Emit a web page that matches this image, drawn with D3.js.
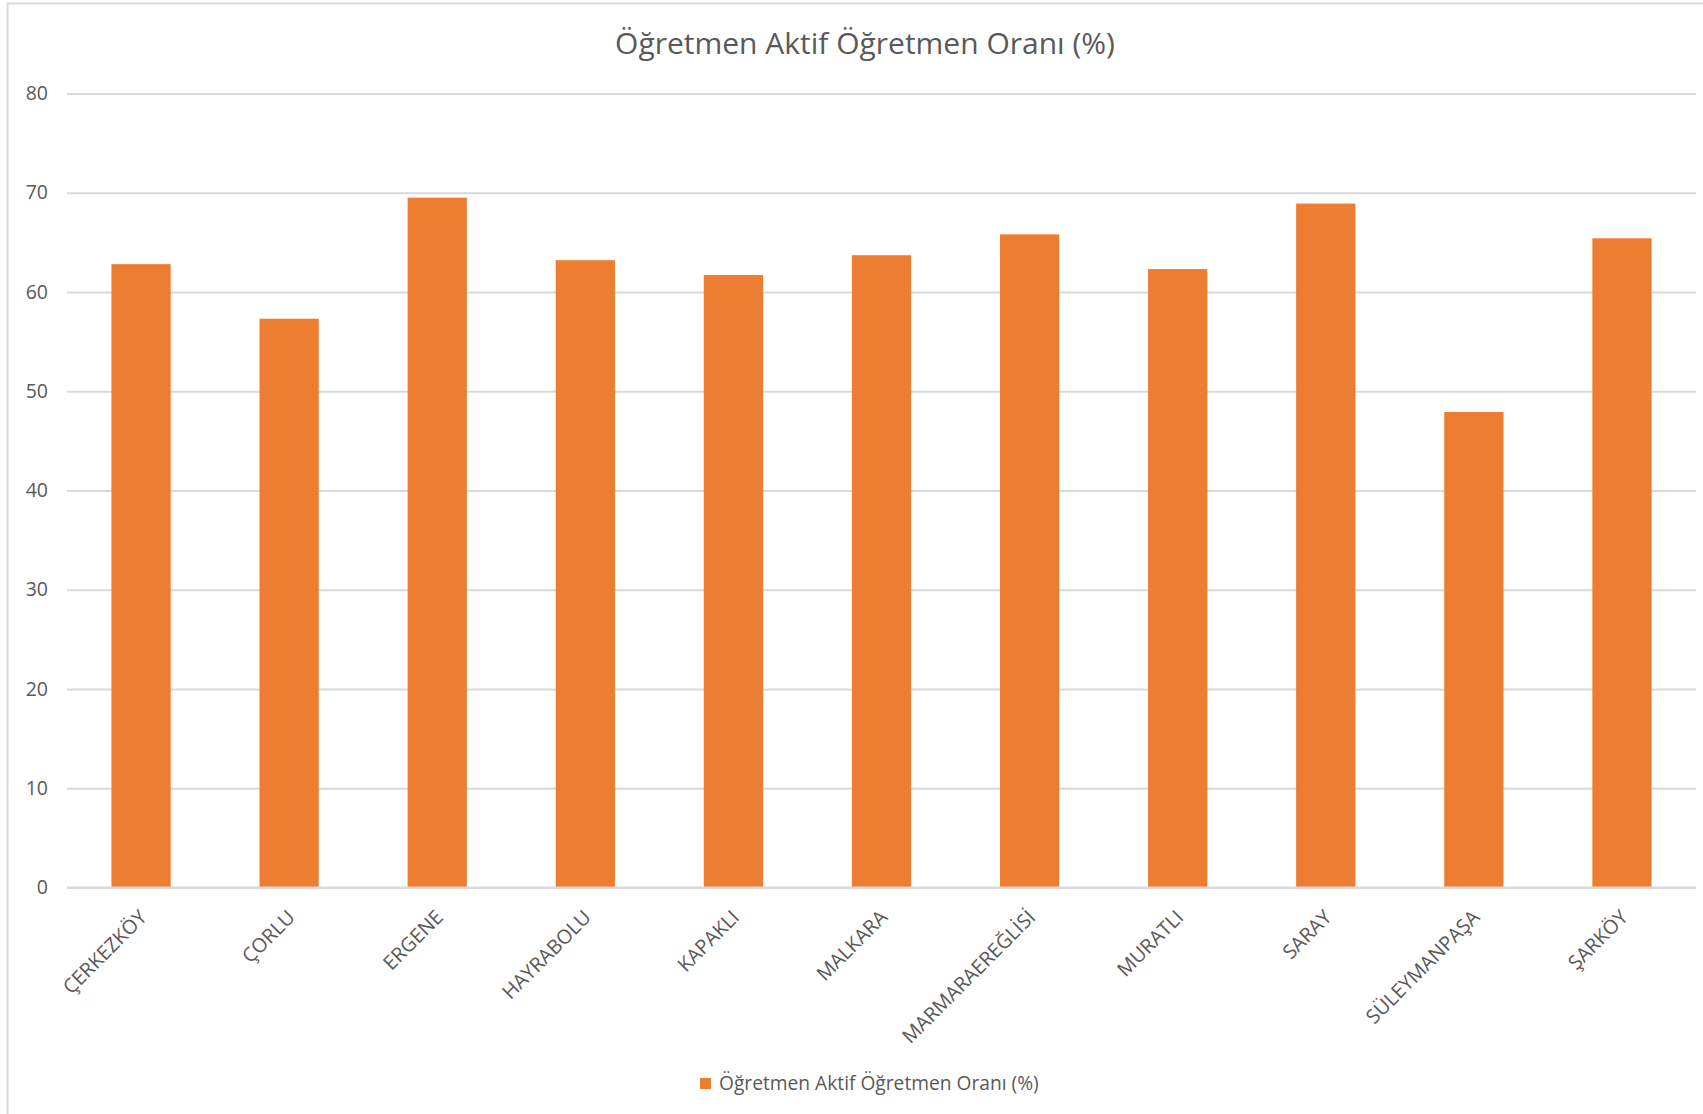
<!DOCTYPE html>
<html>
<head>
<meta charset="utf-8">
<script src="https://cdn.jsdelivr.net/npm/d3@7"></script>
<style>
  html, body { margin: 0; padding: 0; background: #fff; }
  svg { display: block; }
  text { font-family: "Open Sans", "Noto Sans", sans-serif; fill: #595959; }
</style>
</head>
<body>
<svg id="chart" width="1703" height="1114"></svg>
<script>
const title = "Öğretmen Aktif Öğretmen Oranı (%)";
const seriesName = "Öğretmen Aktif Öğretmen Oranı (%)";
const categories = ["ÇERKEZKÖY", "ÇORLU", "ERGENE", "HAYRABOLU", "KAPAKLI", "MALKARA",
  "MARMARAEREĞLİSİ", "MURATLI", "SARAY", "SÜLEYMANPAŞA", "ŞARKÖY"];
const values = [62.8, 57.3, 69.5, 63.2, 61.7, 63.7, 65.8, 62.3, 68.9, 47.9, 65.4];
const yTicks = [0, 10, 20, 30, 40, 50, 60, 70, 80];

const svg = d3.select("#chart");
const W = 1703, H = 1114;
const plot = { left: 67, right: 1696, top: 93.4, bottom: 887.5 };
const barColor = "#ED7D31";
const gridColor = "#D9D9D9";

// chart frame
svg.append("rect")
  .attr("x", 7.5).attr("y", 3.5)
  .attr("width", W + 20).attr("height", H + 20)
  .attr("fill", "#fff").attr("stroke", gridColor).attr("stroke-width", 2);

const x = d3.scaleBand()
  .domain(categories)
  .range([plot.left, plot.right])
  .paddingInner(0.6)
  .paddingOuter(0.3);

const y = d3.scaleLinear()
  .domain([0, 80])
  .range([plot.bottom, plot.top]);

// y axis with gridlines
const yAxis = d3.axisLeft(y)
  .tickValues(yTicks)
  .tickSizeInner(-(plot.right - plot.left))
  .tickSizeOuter(0)
  .tickPadding(19)
  .tickFormat(d3.format("d"));

const gy = svg.append("g")
  .attr("transform", `translate(${plot.left},0)`)
  .call(yAxis);
gy.select(".domain").remove();
gy.selectAll(".tick line").attr("stroke", gridColor).attr("stroke-width", 2);
gy.selectAll(".tick text")
  .attr("font-size", 19.5)
  .attr("fill", "#595959")
  .attr("font-family", "\"Open Sans\", sans-serif");

// bars
svg.append("g").selectAll("rect")
  .data(categories.map((c, i) => ({ c, v: values[i] })))
  .join("rect")
  .attr("x", d => x(d.c))
  .attr("width", x.bandwidth())
  .attr("y", d => y(d.v))
  .attr("height", d => y(0) - y(d.v))
  .attr("fill", barColor);

// redraw baseline over bars
svg.append("line")
  .attr("x1", plot.left).attr("x2", plot.right)
  .attr("y1", y(0)).attr("y2", y(0))
  .attr("stroke", gridColor).attr("stroke-width", 2);

// x axis labels rotated
const xAxis = d3.axisBottom(x).tickSize(0).tickPadding(0);
const gx = svg.append("g")
  .attr("transform", `translate(0,${plot.bottom})`)
  .call(xAxis);
gx.select(".domain").remove();
gx.selectAll(".tick text")
  .attr("font-size", 19.8)
  .attr("fill", "#595959")
  .attr("font-family", "\"Open Sans\", sans-serif")
  .attr("text-anchor", "end")
  .attr("dy", null)
  .attr("y", null)
  .attr("transform", "translate(7,31) rotate(-45)");

// title
svg.append("text")
  .attr("x", 865).attr("y", 54)
  .attr("text-anchor", "middle")
  .attr("font-size", 30)
  .text(title);

// legend
const lg = svg.append("g");
lg.append("rect")
  .attr("x", 700).attr("y", 1078)
  .attr("width", 11).attr("height", 11)
  .attr("fill", barColor);
lg.append("text")
  .attr("x", 719).attr("y", 1089.5)
  .attr("font-size", 19.2)
  .text(seriesName);
</script>
</body>
</html>
